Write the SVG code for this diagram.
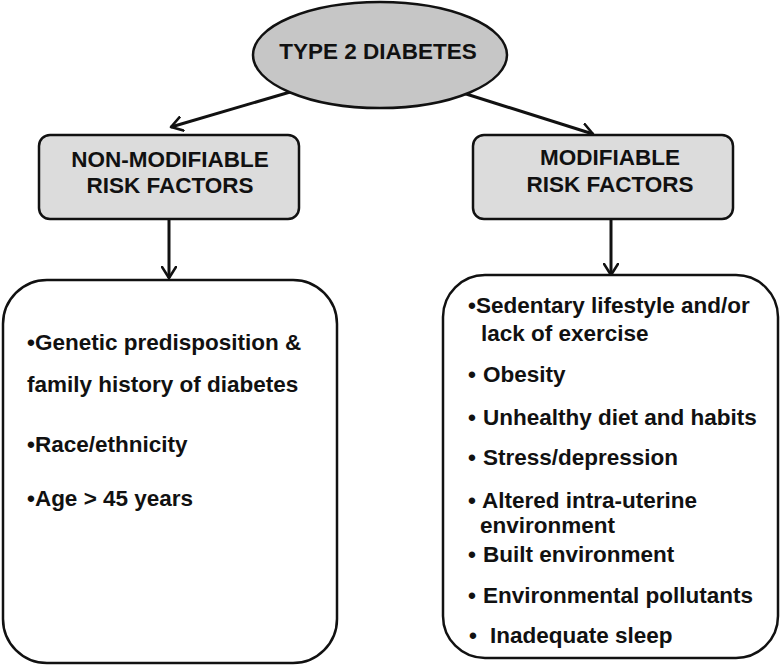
<svg xmlns="http://www.w3.org/2000/svg" width="781" height="666" viewBox="0 0 781 666">
  <style>
    .t { font-family: "Liberation Sans", Arial, sans-serif; font-weight: bold; fill: #111; }
    .hd { font-size: 22.5px; text-anchor: middle; }
    .li { font-size: 22.5px; }
    .box { fill: #dcdcdc; stroke: #111; stroke-width: 2.5; }
    .panel { fill: #fff; stroke: #111; stroke-width: 2.5; }
    .conn { stroke: #111; stroke-width: 3; fill: none; marker-end: url(#ah); }
  </style>
  <defs>
    <marker id="ah" viewBox="0 0 14 16" refX="12" refY="8" markerWidth="14" markerHeight="16" markerUnits="userSpaceOnUse" orient="auto">
      <path d="M1,1 L12,8 L1,15" fill="none" stroke="#111" stroke-width="2.6" stroke-linecap="round" stroke-linejoin="round"/>
    </marker>
  </defs>
  <rect width="781" height="666" fill="#fff"/>

  <g id="connectors">
    <line class="conn" x1="297" y1="90" x2="171" y2="127"/>
    <line class="conn" x1="463" y1="93" x2="593" y2="134"/>
    <line class="conn" x1="169" y1="219" x2="169" y2="278"/>
    <line class="conn" x1="611" y1="219" x2="611" y2="275"/>
  </g>

  <g id="type2">
    <ellipse cx="380" cy="55" rx="127" ry="53" fill="#c6c6c6" stroke="#111" stroke-width="2.5"/>
    <text class="t hd" x="378" y="59">TYPE 2 DIABETES</text>
  </g>

  <g id="nonmod">
    <rect class="box" x="39" y="135" width="260" height="84" rx="11"/>
    <text class="t hd" x="170" y="167">NON-MODIFIABLE</text>
    <text class="t hd" x="170" y="193">RISK FACTORS</text>
  </g>

  <g id="mod">
    <rect class="box" x="473" y="135" width="260" height="84" rx="11"/>
    <text class="t hd" x="610" y="165">MODIFIABLE</text>
    <text class="t hd" x="610" y="192">RISK FACTORS</text>
  </g>

  <g id="nonmod-list">
    <rect class="panel" x="3" y="280" width="334" height="383" rx="44"/>
    <text class="t li" x="27" y="350">•Genetic predisposition &amp;</text>
    <text class="t li" x="27" y="392">family history of diabetes</text>
    <text class="t li" x="27" y="452">•Race/ethnicity</text>
    <text class="t li" x="27" y="506">•Age &gt; 45 years</text>
  </g>

  <g id="mod-list">
    <rect class="panel" x="443" y="275" width="335" height="383" rx="42"/>
    <text class="t li" x="468" y="313">•Sedentary lifestyle and/or</text>
    <text class="t li" x="481" y="341">lack of exercise</text>
    <text class="t li" x="468" y="382">•</text><text class="t li" x="483" y="382">Obesity</text>
    <text class="t li" x="468" y="425">•</text><text class="t li" x="483" y="425">Unhealthy diet and habits</text>
    <text class="t li" x="468" y="465">•</text><text class="t li" x="483" y="465">Stress/depression</text>
    <text class="t li" x="468" y="508">•</text><text class="t li" x="482" y="508">Altered intra-uterine</text>
    <text class="t li" x="480" y="533">environment</text>
    <text class="t li" x="468" y="562">•</text><text class="t li" x="483" y="562">Built environment</text>
    <text class="t li" x="468" y="603">•</text><text class="t li" x="483" y="603">Environmental pollutants</text>
    <text class="t li" x="469" y="643">•</text><text class="t li" x="490" y="643">Inadequate sleep</text>
  </g>
</svg>
